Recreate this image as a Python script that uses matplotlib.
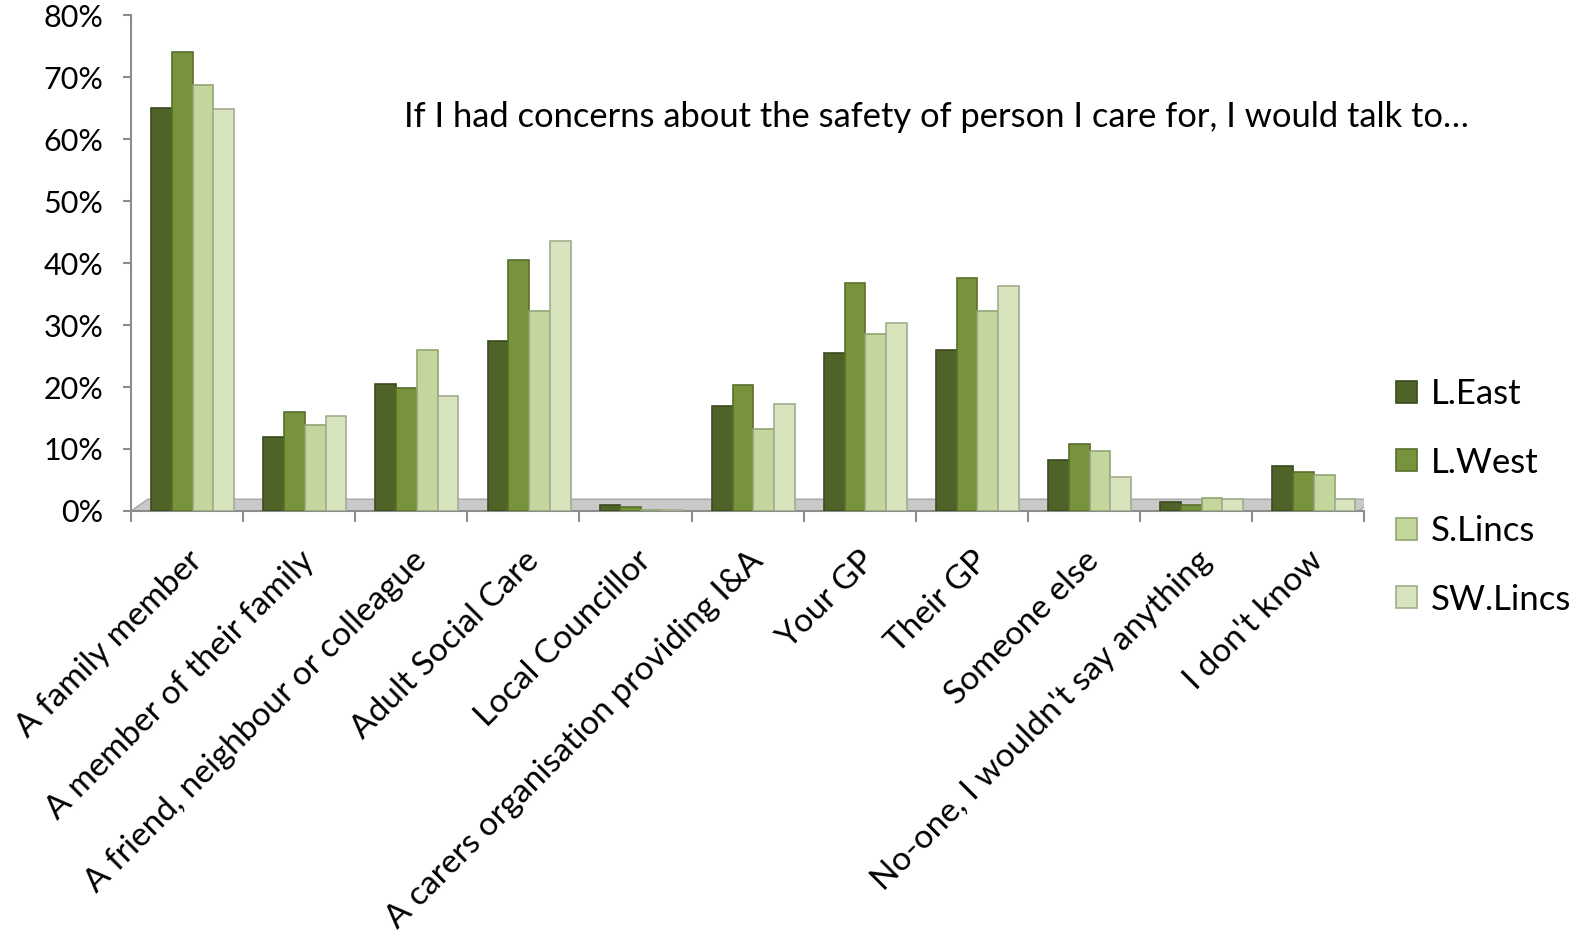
import numpy as np
import matplotlib
matplotlib.use("Agg")
import matplotlib.pyplot as plt
from matplotlib.patches import Polygon
from matplotlib.ticker import FixedLocator, PercentFormatter

plt.rcParams['font.family'] = ['Lato', 'DejaVu Sans']

categories = ["A family member", "A member of their family",
              "A friend, neighbour or colleague", "Adult Social Care",
              "Local Councillor", "A carers organisation providing I&A",
              "Your GP", "Their GP", "Someone else",
              "No-one, I wouldn't say anything", "I don't know"]
series = ["L.East", "L.West", "S.Lincs", "SW.Lincs"]
l_east = [65, 12, 20.5, 27.5, 1.0, 17, 25.5, 26, 8.3, 1.5, 7.3]
l_west = [74, 16, 19.8, 40.5, 0.6, 20.3, 36.8, 37.6, 10.8, 1.0, 6.3]
s_lincs = [68.8, 13.8, 26, 32.2, 0.2, 13.3, 28.5, 32.2, 9.6, 2.1, 5.8]
sw_lincs = [64.8, 15.3, 18.6, 43.5, 0.2, 17.3, 30.4, 36.3, 5.5, 2.0, 2.0]
values = [l_east, l_west, s_lincs, sw_lincs]
colors = ["#4f6228", "#77933c", "#c3d69b", "#d7e4bd"]
edges = ["#3b4a1e", "#5a702c", "#93a474", "#a2ad8e"]

fig = plt.figure(figsize=(15.83, 9.48), dpi=100)
ax = fig.add_axes([0.0828, 0.461, 0.779, 0.523])

x = np.arange(len(categories))
width = 0.185
offset0 = -1.5 * width + 0.05

# floor of the 3D plot
floor = Polygon([(-0.5, 0), (10.45, 0), (10.6, 1.9), (-0.35, 1.9)],
                closed=True, facecolor="#c9c9c9", edgecolor="#a6a6a6",
                lw=1, zorder=1)
ax.add_patch(floor)

for i, (vals, c, e) in enumerate(zip(values, colors, edges)):
    ax.bar(x + offset0 + i * width, vals, width=width, color=c,
           edgecolor=e, linewidth=1.2, label=series[i], zorder=3)

ax.set_xlim(-0.5, 10.5)
ax.set_ylim(0, 80)
ax.yaxis.set_major_locator(FixedLocator(np.arange(0, 81, 10)))
ax.yaxis.set_major_formatter(PercentFormatter(decimals=0))

ax.set_xticks(x)
ax.set_xticklabels(categories, rotation=45, ha='right',
                   rotation_mode='anchor', fontsize=24)
ax.xaxis.set_minor_locator(FixedLocator(np.arange(-0.5, 11, 1)))
ax.tick_params(axis='x', which='major', length=0, pad=25)
ax.tick_params(axis='x', which='minor', length=8, color="#8c8c8c", width=1.5)
ax.tick_params(axis='y', length=6, color="#8c8c8c", width=1.5,
               labelsize=22, pad=14)

for s in ['top', 'right']:
    ax.spines[s].set_visible(False)
for s in ['left', 'bottom']:
    ax.spines[s].set_color("#8c8c8c")
    ax.spines[s].set_linewidth(1.5)

fig.text(0.255, 0.877,
         "If I had concerns about the safety of person I care for, I would talk to\u2026",
         fontsize=24.8, ha='left', va='center')

leg = fig.legend(loc='upper left', bbox_to_anchor=(0.862, 0.634),
                 frameon=False, fontsize=25, handlelength=0.6,
                 handleheight=0.6, handletextpad=0.4, labelspacing=1.05)

fig.savefig("out.png", dpi=100)
